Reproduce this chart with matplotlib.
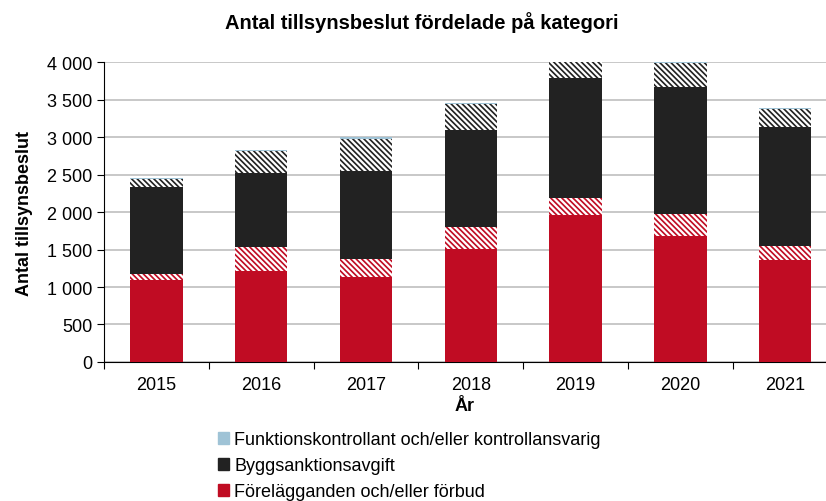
import numpy as np
import matplotlib
matplotlib.use("Agg")
import matplotlib.pyplot as plt
from matplotlib.ticker import FuncFormatter

plt.rcParams['font.family'] = ['Liberation Sans', 'DejaVu Sans']
plt.rcParams['hatch.linewidth'] = 1.6

years = ['2015', '2016', '2017', '2018', '2019', '2020', '2021']
forelagg = [1100, 1210, 1130, 1510, 1955, 1675, 1360]
forelagg_h = [80, 320, 245, 285, 235, 300, 190]
sanktion = [1155, 990, 1170, 1295, 1605, 1700, 1590]
sanktion_h = [110, 295, 435, 350, 205, 315, 235]
funktion = [15, 18, 17, 18, 10, 10, 17]

red = '#C00C23'
black = '#222222'
blue = '#9FC3D6'

fig = plt.figure(figsize=(8.26, 5.02), dpi=100)
ax = fig.add_axes([0.126, 0.277, 0.874, 0.597])
x = np.arange(len(years))
w = 0.5

b = np.zeros(len(years))
ax.bar(x, forelagg, w, bottom=b, color=red, zorder=3)
b += forelagg
ax.bar(x, forelagg_h, w, bottom=b, facecolor=red, edgecolor='white', hatch='\\\\\\\\\\\\', linewidth=0, zorder=3)
b += forelagg_h
ax.bar(x, sanktion, w, bottom=b, color=black, zorder=3)
b += sanktion
ax.bar(x, sanktion_h, w, bottom=b, facecolor=black, edgecolor='white', hatch='\\\\\\\\\\\\', linewidth=0, zorder=3)
b += sanktion_h
ax.bar(x, funktion, w, bottom=b, color=blue, zorder=3)

ax.set_ylim(0, 4000)
ax.set_xlim(-0.5, 6.39)
ax.set_yticks(np.arange(0, 4001, 500))
ax.yaxis.set_major_formatter(FuncFormatter(lambda v, p: f'{int(v):,}'.replace(',', ' ')))
ax.yaxis.grid(True, color='#BFBFBF', linewidth=1.2, zorder=0)
ax.set_axisbelow(True)

ax.set_xticks(np.arange(-0.5, 6.5, 1.0))
ax.set_xticklabels([])
ax.set_xticks(x, minor=True)
ax.set_xticklabels(years, minor=True)
ax.tick_params(axis='x', which='minor', length=0, labelsize=13, pad=10)
ax.tick_params(axis='x', which='major', length=5, color='black')
ax.tick_params(axis='y', labelsize=13, length=5, direction='out')

for s in ['top', 'right']:
    ax.spines[s].set_visible(False)
ax.spines['left'].set_color('black')
ax.spines['bottom'].set_color('black')

ax.set_ylabel('Antal tillsynsbeslut', fontsize=13, fontweight='bold', labelpad=10)
ax.set_xlabel('År', fontsize=13, fontweight='bold', labelpad=3)
fig.suptitle('Antal tillsynsbeslut fördelade på kategori', x=0.51, y=0.977, fontsize=14.5, fontweight='bold')

handles = [plt.Rectangle((0, 0), 1, 1, color=c) for c in [blue, black, red]]
labels = ['Funktionskontrollant och/eller kontrollansvarig', 'Byggsanktionsavgift', 'Förelägganden och/eller förbud']
fig.legend(handles, labels, loc='upper left', bbox_to_anchor=(0.255, 0.153),
           frameon=False, fontsize=13, handlelength=0.6, handleheight=0.6, handletextpad=0.3,
           labelspacing=0.5, borderaxespad=0)

plt.savefig('out.png', dpi=100)
